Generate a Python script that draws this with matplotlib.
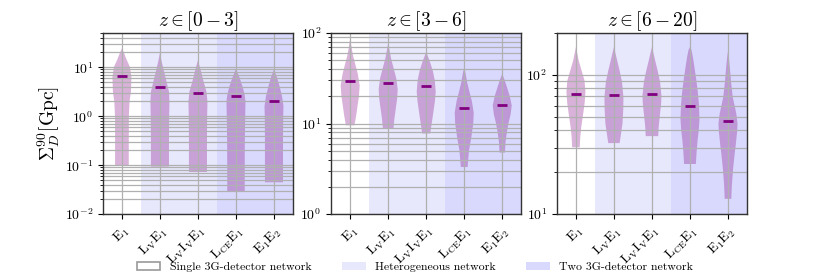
import numpy as np
import matplotlib
matplotlib.use('Agg')
import matplotlib.pyplot as plt
from matplotlib.patches import Patch
from matplotlib.ticker import LogLocator, NullFormatter

plt.rcParams['font.family'] = 'serif'
plt.rcParams['font.serif'] = ['cmr10']
plt.rcParams['mathtext.fontset'] = 'cm'
plt.rcParams['axes.formatter.use_mathtext'] = True
plt.rcParams['axes.unicode_minus'] = False

networks = [r'$\mathrm{E_1}$', r'$\mathrm{L_V E_1}$', r'$\mathrm{L_V I_V E_1}$',
            r'$\mathrm{L_{CE} E_1}$', r'$\mathrm{E_1 E_2}$']
titles = [r'$z \in [0-3]$', r'$z \in [3-6]$', r'$z \in [6-20]$']
ylims = [(1e-2, 50), (1, 100), (10, 200)]

# medians of Sigma_D^90 [Gpc], per redshift bin
medians_z0 = [6.6, 3.85, 3.0, 2.6, 2.0]
medians_z1 = [29.5, 28.0, 26.0, 15.0, 16.0]
medians_z2 = [73, 72, 73, 60, 47]

# violin outlines: (log10 value, relative width)
profiles_z0 = [
    [(-1.0, 0.72), (-0.5, 0.72), (0.0, 0.73), (0.3, 0.8), (0.5, 0.95), (0.8, 1.0), (1.0, 0.85), (1.15, 0.5), (1.3, 0.2), (1.38, 0.0)],
    [(-1.03, 0.95), (-0.5, 0.95), (0.0, 0.97), (0.3, 1.0), (0.5, 0.95), (0.7, 0.7), (0.9, 0.45), (1.1, 0.2), (1.29, 0.0)],
    [(-1.14, 0.95), (-0.5, 0.95), (0.0, 0.97), (0.3, 1.0), (0.5, 0.9), (0.7, 0.6), (0.9, 0.35), (1.14, 0.0)],
    [(-1.54, 0.92), (-1.0, 0.92), (-0.5, 0.93), (0.0, 0.97), (0.3, 1.0), (0.45, 0.9), (0.6, 0.7), (0.8, 0.35), (0.97, 0.0)],
    [(-1.35, 0.95), (-0.5, 0.95), (0.0, 0.97), (0.2, 1.0), (0.4, 0.85), (0.6, 0.6), (0.8, 0.3), (0.95, 0.0)],
]
profiles_z1 = [
    [(0.98, 0.45), (1.1, 0.65), (1.2, 0.78), (1.3, 0.92), (1.42, 1.0), (1.55, 0.8), (1.65, 0.55), (1.75, 0.3), (1.85, 0.13), (1.94, 0.0)],
    [(0.94, 0.55), (1.05, 0.65), (1.15, 0.78), (1.28, 0.95), (1.38, 1.0), (1.5, 0.85), (1.62, 0.55), (1.72, 0.3), (1.82, 0.12), (1.89, 0.0)],
    [(0.89, 0.42), (1.0, 0.58), (1.1, 0.72), (1.25, 0.92), (1.35, 1.0), (1.48, 0.9), (1.58, 0.7), (1.68, 0.4), (1.79, 0.0)],
    [(0.52, 0.36), (0.6, 0.42), (0.7, 0.5), (0.85, 0.75), (1.0, 0.95), (1.12, 1.0), (1.25, 0.8), (1.35, 0.55), (1.45, 0.32), (1.55, 0.15), (1.62, 0.0)],
    [(0.68, 0.28), (0.8, 0.35), (0.9, 0.48), (1.0, 0.65), (1.1, 0.88), (1.2, 1.0), (1.3, 0.8), (1.4, 0.5), (1.48, 0.25), (1.55, 0.0)],
]
profiles_z2 = [
    [(1.48, 0.4), (1.55, 0.45), (1.62, 0.55), (1.72, 0.76), (1.8, 0.92), (1.88, 1.0), (1.96, 0.9), (2.03, 0.6), (2.1, 0.3), (2.15, 0.15), (2.2, 0.0)],
    [(1.51, 0.6), (1.58, 0.75), (1.65, 0.9), (1.75, 0.98), (1.84, 1.0), (1.95, 0.85), (2.03, 0.6), (2.1, 0.35), (2.15, 0.18), (2.2, 0.0)],
    [(1.56, 0.66), (1.62, 0.7), (1.7, 0.82), (1.8, 0.97), (1.85, 1.0), (1.95, 0.85), (2.03, 0.6), (2.1, 0.35), (2.15, 0.18), (2.2, 0.0)],
    [(1.36, 0.62), (1.45, 0.7), (1.53, 0.8), (1.6, 0.92), (1.68, 1.0), (1.78, 0.95), (1.88, 0.82), (1.97, 0.65), (2.05, 0.48), (2.13, 0.3), (2.18, 0.15), (2.2, 0.0)],
    [(1.11, 0.35), (1.2, 0.4), (1.32, 0.53), (1.42, 0.68), (1.5, 0.82), (1.6, 0.97), (1.65, 1.0), (1.72, 0.88), (1.84, 0.5), (1.95, 0.32), (2.05, 0.2), (2.12, 0.1), (2.17, 0.0)],
]

medians = [medians_z0, medians_z1, medians_z2]
profiles = [profiles_z0, profiles_z1, profiles_z2]

het_color = (0, 0, 0.95, 0.09)
two_color = (0, 0, 0.95, 0.15)

fig = plt.figure(figsize=(8.3, 2.77), dpi=100)
lefts = [0.124, 0.399, 0.671]
pos = np.arange(len(networks))

for i in range(3):
    ax = fig.add_axes([lefts[i], 0.227, 0.229, 0.654])
    ax.set_yscale('log')
    ax.axvspan(0.5, 2.5, color=het_color, lw=0)
    ax.axvspan(2.5, 4.5, color=two_color, lw=0)

    vpstats = []
    for prof, med in zip(profiles[i], medians[i]):
        p = np.array(prof)
        coords = 10 ** p[:, 0]
        vpstats.append(dict(coords=coords, vals=p[:, 1], mean=med, median=med,
                            min=coords.min(), max=coords.max()))
    parts = ax.violin(vpstats, positions=pos, widths=0.5,
                      showmeans=False, showextrema=False, showmedians=False)
    for b in parts['bodies']:
        b.set_facecolor('purple')
        b.set_edgecolor('none')
        b.set_alpha(0.3)
    ax.hlines(medians[i], pos - 0.13, pos + 0.13, color='purple', lw=2, zorder=3)

    ax.set_xlim(-0.5, 4.5)
    ax.set_ylim(*ylims[i])
    ax.yaxis.set_major_locator(LogLocator(base=10))
    ax.yaxis.set_minor_locator(LogLocator(base=10, subs=np.arange(2, 10), numticks=20))
    ax.yaxis.set_minor_formatter(NullFormatter())
    ax.grid(True, which='both', axis='y', color='#b0b0b0', lw=0.9)
    ax.grid(True, which='major', axis='x', color='#b0b0b0', lw=0.9)
    ax.set_xticks(pos)
    ax.set_xticklabels(networks, rotation=45, ha='right', rotation_mode='anchor', fontsize=10)
    ax.tick_params(axis='y', labelsize=10)
    for s in ax.spines.values():
        s.set_color('#333333')
        s.set_linewidth(1.0)
    ax.set_title(titles[i], fontsize=14, pad=3)
    if i == 0:
        ax.set_ylabel(r'$\Sigma_D^{90}[\mathrm{Gpc}]$', fontsize=14, labelpad=2)

handles = [Patch(facecolor='white', edgecolor='#999999', lw=1.2, label='Single 3G-detector network'),
           Patch(facecolor=het_color, edgecolor='none', label='Heterogeneous network'),
           Patch(facecolor=two_color, edgecolor='none', label='Two 3G-detector network')]
fig.legend(handles=handles, loc='lower center', bbox_to_anchor=(0.5, -0.02), ncol=3,
           frameon=False, fontsize=8.5, columnspacing=2.6)

fig.savefig('out.png', dpi=100)
